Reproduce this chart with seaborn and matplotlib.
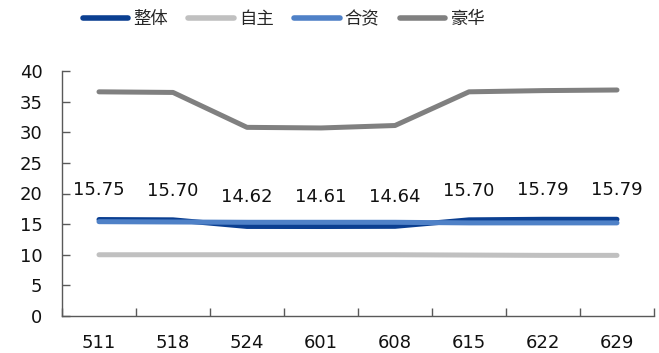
import matplotlib
matplotlib.use("Agg")
import matplotlib.pyplot as plt
import seaborn as sns
import pandas as pd

weeks = ["511", "518", "524", "601", "608", "615", "622", "629"]
overall = [15.75, 15.70, 14.62, 14.61, 14.64, 15.70, 15.79, 15.79]
domestic = [10.0, 10.0, 10.0, 10.0, 10.0, 9.95, 9.9, 9.9]
joint = [15.4, 15.35, 15.3, 15.3, 15.3, 15.2, 15.2, 15.2]
luxury = [36.6, 36.5, 30.8, 30.7, 31.1, 36.6, 36.8, 36.9]

series_names = ["整体", "自主", "合资", "豪华"]
series_values = [overall, domestic, joint, luxury]
colors = ["#0B3F91", "#C0C0C0", "#4F81C7", "#808080"]

df = pd.DataFrame({
    "week": weeks * len(series_names),
    "pos": list(range(len(weeks))) * len(series_names),
    "series": [s for s in series_names for _ in weeks],
    "value": [v for vals in series_values for v in vals],
})

sns.set_theme(style="white")
plt.rcParams["font.family"] = ["DejaVu Sans", "Noto Sans CJK SC"]

fig = plt.figure(figsize=(6.59, 3.53), dpi=100)
ax = fig.add_axes([62 / 659, 1 - 316 / 353, 592 / 659, 245 / 353])

sns.lineplot(data=df, x="pos", y="value", hue="series", hue_order=series_names,
             palette=colors, linewidth=3.6, ax=ax, legend=False,
             solid_capstyle="round")

# value labels above the overall line
for i, v in enumerate(overall):
    ax.annotate(f"{v:.2f}", (i, v), xytext=(0, 21), textcoords="offset points",
                ha="center", va="center", fontsize=13, color="#111111")

ax.set_xlim(-0.5, len(weeks) - 0.5)
ax.set_ylim(0, 40)
ax.set_yticks(range(0, 41, 5))
ax.set_xticks(range(len(weeks)))
ax.set_xticklabels(weeks)
ax.set_xticks([i - 0.5 for i in range(len(weeks) + 1)], minor=True)
ax.set_xlabel("")
ax.set_ylabel("")

for side in ["top", "right"]:
    ax.spines[side].set_visible(False)
for side in ["left", "bottom"]:
    ax.spines[side].set_color("#595959")
    ax.spines[side].set_linewidth(1.0)

ax.yaxis.set_tick_params(which="major", direction="in", length=6, width=1,
                         color="#595959", pad=14, labelsize=13,
                         labelcolor="#111111", left=True)
ax.xaxis.set_tick_params(which="major", length=0, pad=13, labelsize=13,
                         labelcolor="#111111")
ax.xaxis.set_tick_params(which="minor", direction="in", length=6, width=1,
                         color="#595959", bottom=True)

handles = [plt.Line2D([], [], color=c, linewidth=4, solid_capstyle="round")
           for c in colors]
fig.legend(handles, series_names, loc="center", bbox_to_anchor=(284 / 659, 1 - 19 / 353),
           ncol=4, frameon=False, handlelength=2.6, handletextpad=0.3,
           columnspacing=1.2, prop={"family": ["Noto Sans CJK SC"], "size": 12.5})

fig.savefig("out.png", dpi=100)
